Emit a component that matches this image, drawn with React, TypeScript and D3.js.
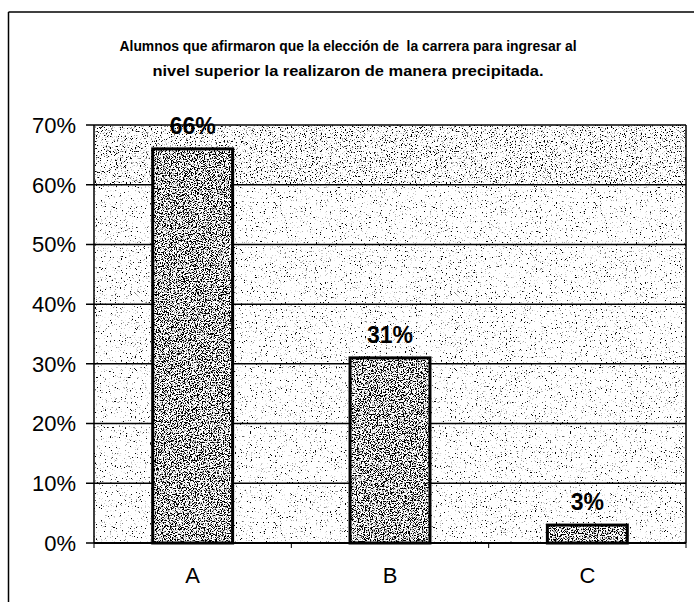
import * as d3 from 'd3';

// chart data
const categories = ['A', 'B', 'C'];
const values = [66, 31, 3];
const yTicks = [0, 10, 20, 30, 40, 50, 60, 70];
const titleLines = [
  'Alumnos que afirmaron que la elección de  la carrera para ingresar al',
  'nivel superior la realizaron de manera precipitada.'
];

const width = 694;
const height = 602;
const margin = { top: 125, right: 8, bottom: 59, left: 94 };

export default function App() {
  const innerW = width - margin.left - margin.right;
  const innerH = height - margin.top - margin.bottom;

  const x = d3.scaleBand<string>()
    .domain(categories)
    .range([0, innerW])
    .paddingInner(0.595)
    .paddingOuter(0.2975);

  const y = d3.scaleLinear().domain([0, 70]).range([innerH, 0]);

  // boundaries between categories, for the small x ticks
  const bounds = d3.range(categories.length + 1).map(i => i * innerW / categories.length);

  const font = 'Arial, "Liberation Sans", sans-serif';
  const narrow = '"Liberation Sans Narrow", "Arial Narrow", Arial, "Liberation Sans", sans-serif';

  return (
    <svg width={width} height={height} style={{ position: 'absolute', left: 0, top: 0, background: '#fff' }}>
      <defs>
        <filter id="speckleLight" x="0" y="0" width="100%" height="100%">
          <feTurbulence type="fractalNoise" baseFrequency="0.8" numOctaves="4" seed="4" result="noise" />
          <feColorMatrix in="noise" type="matrix"
            values="0 0 0 0 0  0 0 0 0 0  0 0 0 0 0  9 0 0 0 -5.75" result="dots" />
          <feFlood floodColor="#ffffff" result="w" />
          <feMerge><feMergeNode in="w" /><feMergeNode in="dots" /></feMerge>
        </filter>
        <filter id="speckleMid" x="0" y="0" width="100%" height="100%">
          <feTurbulence type="fractalNoise" baseFrequency="0.8" numOctaves="4" seed="9" result="noise" />
          <feColorMatrix in="noise" type="matrix"
            values="0 0 0 0 0  0 0 0 0 0  0 0 0 0 0  9 0 0 0 -5.2" result="dots" />
          <feFlood floodColor="#ffffff" result="w" />
          <feMerge><feMergeNode in="w" /><feMergeNode in="dots" /></feMerge>
        </filter>
        <filter id="speckleDark" x="0" y="0" width="100%" height="100%">
          <feTurbulence type="fractalNoise" baseFrequency="0.85" numOctaves="3" seed="2" result="noise" />
          <feColorMatrix in="noise" type="matrix"
            values="0 0 0 0 0  0 0 0 0 0  0 0 0 0 0  9 0 0 0 -4.2" result="dots" />
          <feFlood floodColor="#ffffff" result="w" />
          <feMerge><feMergeNode in="w" /><feMergeNode in="dots" /></feMerge>
        </filter>
      </defs>

      {/* outer frame (only top and left survive in the scan) */}
      <line x1={8.5} y1={12} x2={width} y2={12} stroke="#000" strokeWidth={1.5} />
      <line x1={8.5} y1={12} x2={8.5} y2={height} stroke="#000" strokeWidth={1.5} />

      {titleLines.map((t, i) => (
        <text key={i} x={348} y={51 + i * 25} textAnchor="middle" fontFamily={narrow}
          fontWeight="bold" fontSize={14.5} fill="#000" style={{ whiteSpace: 'pre' }}
          textLength={i === 0 ? 457 : 391} lengthAdjust="spacingAndGlyphs">{t}</text>
      ))}

      <g transform={`translate(${margin.left},${margin.top})`}>
        {/* plot area background */}
        <rect x={0} y={0} width={innerW} height={innerH} fill="#fff" filter="url(#speckleLight)" />
        <rect x={0} y={0} width={innerW} height={y(60)} fill="#fff" filter="url(#speckleMid)" />

        {/* gridlines */}
        {yTicks.map(t => (
          <line key={t} x1={-8} x2={innerW} y1={y(t)} y2={y(t)} stroke="#000" strokeWidth={1.5} />
        ))}
        <line x1={0} x2={0} y1={0} y2={innerH} stroke="#000" strokeWidth={1.5} />
        <line x1={innerW} x2={innerW} y1={0} y2={innerH} stroke="#000" strokeWidth={1.5} />
        <line x1={0} x2={innerW} y1={innerH} y2={innerH} stroke="#000" strokeWidth={2} />

        {bounds.map((b, i) => (
          <line key={i} x1={b} x2={b} y1={innerH} y2={innerH + 5} stroke="#000" strokeWidth={1} />
        ))}

        {/* y labels */}
        {yTicks.map(t => (
          <text key={t} x={-18} y={y(t)} dy="0.36em" textAnchor="end" fontFamily={font}
            fontSize={22} fill="#000">{t}%</text>
        ))}

        {/* bars */}
        {categories.map((c, i) => (
          <g key={c}>
            <rect x={x(c)} y={y(values[i])} width={x.bandwidth()} height={innerH - y(values[i])}
              fill="#fff" filter="url(#speckleDark)" />
            <rect x={x(c)} y={y(values[i])} width={x.bandwidth()} height={innerH - y(values[i])}
              fill="none" stroke="#000" strokeWidth={3} />
            <text x={(x(c) ?? 0) + x.bandwidth() / 2} y={y(values[i]) - 15} textAnchor="middle"
              fontFamily={font} fontWeight="bold" fontSize={23} fill="#000">{values[i]}%</text>
            <text x={(x(c) ?? 0) + x.bandwidth() / 2} y={innerH + 40} textAnchor="middle"
              fontFamily={font} fontSize={22} fill="#000">{c}</text>
          </g>
        ))}
      </g>
    </svg>
  );
}
